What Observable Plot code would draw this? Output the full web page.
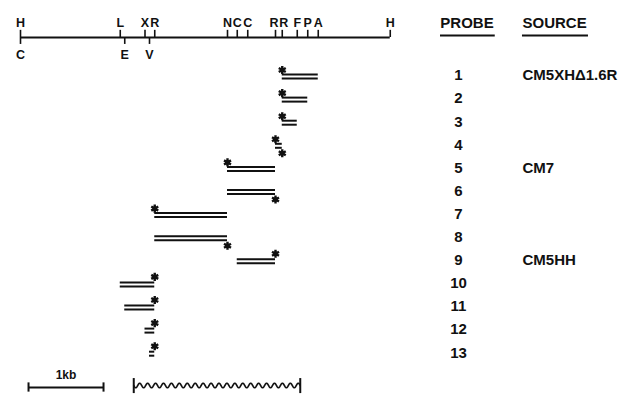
<!DOCTYPE html>
<html><head><meta charset="utf-8">
<script src="https://cdn.jsdelivr.net/npm/d3@7"></script>
<script src="https://cdn.jsdelivr.net/npm/@observablehq/plot@0.6"></script>
<style>
body{margin:0;background:#fff}
#chart svg{display:block;color:#111}
</style>
</head><body><div id="chart"></div>
<script>
// ---- data (kb along the restriction map) ----
const siteLabelsAbove = ["H","L","X","R","N","C","C","R","R","F","P","A","H"];
const siteKbAbove     = [0, 1.33, 1.66, 1.79, 2.76, 2.89, 3.03, 3.40, 3.49, 3.69, 3.83, 3.97, 4.93];
const siteLabelsBelow = ["C","E","V"];
const siteKbBelow     = [0, 1.39, 1.72];

const probeIds     = [1,2,3,4,5,6,7,8,9,10,11,12,13];
const probeStartKb = [3.49,3.49,3.49,3.40,2.76,2.76,1.79,1.79,2.89,1.33,1.39,1.66,1.72];
const probeEndKb   = [3.97,3.83,3.69,3.49,3.40,3.40,2.76,2.76,3.40,1.79,1.79,1.79,1.79];
// end-label position: LT = left end, upper strand; RB = right end, lower strand; RT = right end, upper strand
const probeLabelEnds = [["LT"],["LT"],["LT"],["LT","RB"],["LT"],["RB"],["LT"],["RB"],["RT"],["RT"],["RT"],["RT"],["RT"]];

const sourceProbe = [1,5,9];
const sourceNames = ["CM5XH\u03941.6R","CM7","CM5HH"];

const headerLabels = ["PROBE","SOURCE"];
const scaleBarKb = 1;
const scaleBarLabel = "1kb";
const vectorStartKb = 1.51, vectorEndKb = 3.73;

// ---- layout (kb on x, probe-row units on y; one row = 23.1 px) ----
const rowPx = 23.1;
const mapRow = -0.645, aboveRow = -1.29, belowRow = 0.13;
const headerRow = -1.25, underlineRow = -0.73;
const probeColKb = 5.84, sourceColKb = 6.693;
const probeHeaderKb = 5.953, probeUnderline = [5.6, 6.33], sourceUnderline = [6.693, 7.573];
const scaleStartKb = 0.107, scaleRow = 14.507, scaleTextRow = 13.99, waveRow = 14.42;
const starOffsetPx = {LT: -5.5, RB: 8.5, RT: -6.5};
const labelNudgePx = [0,0,0,0,0,0,0,-1.5,1.5,0,0,0,0];

const probes = probeIds.map((id,i)=>({id, row:id, start:probeStartKb[i], end:probeEndKb[i]}));
const stars = probes.flatMap((p,i)=>probeLabelEnds[i].map(e=>({
  x: e==="LT" ? p.start : p.end,
  y: p.row + starOffsetPx[e]/rowPx
})));
const above = siteLabelsAbove.map((l,i)=>({l, x:siteKbAbove[i], xl: siteKbAbove[i] + labelNudgePx[i]/75}));
const below = siteLabelsBelow.map((l,i)=>({l, x:siteKbBelow[i]}));
const sources = sourceNames.map((s,i)=>({s, row:sourceProbe[i]}));

// decorative wavy vector line
const nWave = 21, waveAmp = 0.1, steps = 12;
const wave = d3.range(0, nWave*steps+1).map(k=>({
  x: vectorStartKb + (vectorEndKb-vectorStartKb)*k/(nWave*steps),
  y: waveRow + waveAmp*Math.sin(2*Math.PI*k/steps)
}));

const font = "Liberation Sans, Arial, sans-serif";
const ink = "#111";
const chart = Plot.plot({
  width: 628, height: 394,
  margin: 0,
  x: {domain: [-20/75, 608/75], range: [0, 628], axis: null},
  y: {domain: [-2.247, 14.81], range: [0, 394], axis: null},
  style: {fontFamily: font, background: "#fff"},
  marks: [
    // restriction map
    Plot.ruleY([mapRow], {x1: siteKbAbove[0], x2: siteKbAbove[siteKbAbove.length-1], strokeWidth: 2, stroke: ink}),
    Plot.ruleX(above, {x: "x", y1: mapRow, y2: mapRow - 0.31, strokeWidth: 1.6, stroke: ink}),
    Plot.ruleX(below, {x: "x", y1: mapRow, y2: mapRow + 0.3, strokeWidth: 1.6, stroke: ink}),
    Plot.text(above, {x: "xl", y: aboveRow, text: "l", fontSize: 12.5, fontWeight: "bold", fill: ink}),
    Plot.text(below, {x: "x", y: belowRow, text: "l", fontSize: 12.5, fontWeight: "bold", fill: ink}),
    // probes: double lines
    Plot.ruleY(probes, {y: "row", x1: "start", x2: "end", dy: -1, strokeWidth: 2, stroke: ink}),
    Plot.ruleY(probes, {y: "row", x1: "start", x2: "end", dy: 3, strokeWidth: 2, stroke: ink}),
    Plot.dot(stars, {x: "x", y: "y", symbol: "asterisk", r: 3.8, strokeWidth: 2.4, stroke: ink}),
    Plot.dot(stars, {x: "x", y: "y", symbol: "circle", r: 2.2, fill: ink}),
    // headers
    Plot.text([headerLabels[0]], {x: probeHeaderKb, y: headerRow, text: d=>d, fontSize: 15, fontWeight: "bold", fill: ink}),
    Plot.text([headerLabels[1]], {x: sourceColKb, y: headerRow, text: d=>d, textAnchor: "start", fontSize: 15, fontWeight: "bold", fill: ink}),
    Plot.ruleY([underlineRow], {x1: probeUnderline[0], x2: probeUnderline[1], strokeWidth: 2, stroke: ink}),
    Plot.ruleY([underlineRow], {x1: sourceUnderline[0], x2: sourceUnderline[1], strokeWidth: 2, stroke: ink}),
    // probe numbers and sources
    Plot.text(probes, {x: probeColKb, y: "row", text: d=>String(d.id), fontSize: 15, fontWeight: "bold", fill: ink}),
    Plot.text(sources, {x: sourceColKb, y: "row", text: "s", textAnchor: "start", fontSize: 15, fontWeight: "bold", fill: ink, style: {letterSpacing: "1.2px"}}),
    // scale bar
    Plot.ruleY([scaleRow], {x1: scaleStartKb, x2: scaleStartKb + scaleBarKb, strokeWidth: 2, stroke: ink}),
    Plot.ruleX([scaleStartKb, scaleStartKb + scaleBarKb], {y1: scaleRow - 0.2, y2: scaleRow + 0.2, strokeWidth: 2, stroke: ink}),
    Plot.text([scaleBarLabel], {x: scaleStartKb + scaleBarKb/2, y: scaleTextRow, text: d=>d, fontSize: 12, fontWeight: "bold", fill: ink}),
    // vector (wavy)
    Plot.line(wave, {x: "x", y: "y", strokeWidth: 1.6, stroke: ink, curve: "linear"}),
    Plot.ruleX([vectorStartKb, vectorEndKb], {y1: waveRow - 0.3, y2: waveRow + 0.35, strokeWidth: 2, stroke: ink})
  ]
});
document.getElementById("chart").append(chart);
</script>
</body></html>
